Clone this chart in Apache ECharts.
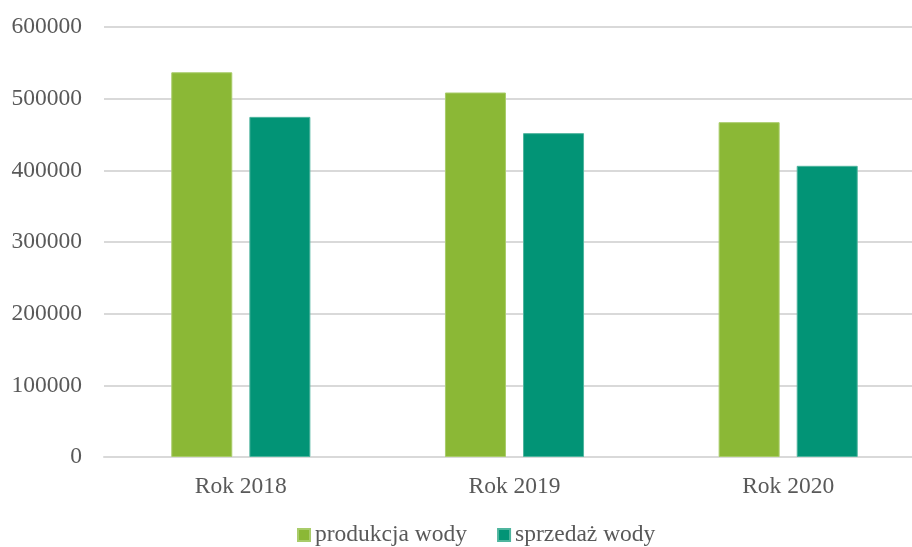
<!DOCTYPE html>
<html>
<head>
<meta charset="utf-8">
<script src="https://cdn.jsdelivr.net/npm/echarts@6/dist/echarts.min.js"></script>
<style>
  html, body { margin: 0; padding: 0; background: #fff; }
  #chart { width: 912px; height: 547px; }
</style>
</head>
<body>
<div id="chart"></div>
<script>
var categories = ['Rok 2018', 'Rok 2019', 'Rok 2020']
var produkcja = [536800, 508600, 467200]
var sprzedaz = [474600, 451900, 406300]
var seriesNames = ['produkcja wody', 'sprzedaż wody']

var font = 'Liberation Serif'
var myChart = echarts.init(document.getElementById('chart'))
myChart.setOption({
  animation: false,
  grid: { left: 104, width: 821, top: 27, bottom: 90, outerBoundsMode: 'none', containLabel: false },
  legend: {
    left: 292,
    top: 518,
    itemWidth: 12,
    itemHeight: 12,
    itemGap: 30,
    icon: 'rect',
    textStyle: { fontFamily: font, fontSize: 23.5, color: '#595959' },
    data: seriesNames
  },
  xAxis: {
    type: 'category',
    data: categories,
    axisLine: { lineStyle: { color: '#d9d9d9', width: 2 } },
    axisTick: { show: false },
    axisLabel: { fontFamily: font, fontSize: 23.5, color: '#595959', margin: 18 }
  },
  yAxis: {
    type: 'value',
    min: 0,
    max: 600000,
    interval: 100000,
    axisLine: { show: false },
    axisTick: { show: false },
    splitLine: { lineStyle: { color: '#d9d9d9', width: 2 } },
    axisLabel: {
      fontFamily: font, fontSize: 23.5, color: '#595959', margin: 22,
      formatter: function (v) { return String(v) }
    }
  },
  series: [
    {
      name: seriesNames[0],
      type: 'bar',
      data: produkcja,
      barWidth: 61,
      barGap: '28%',
      itemStyle: { color: '#8bb836', borderColor: '#a9cc6a', borderWidth: 1 }
    },
    {
      name: seriesNames[1],
      type: 'bar',
      data: sprzedaz,
      barWidth: 61,
      itemStyle: { color: '#029476', borderColor: '#4fb59e', borderWidth: 1 }
    }
  ]
})
</script>
</body>
</html>
